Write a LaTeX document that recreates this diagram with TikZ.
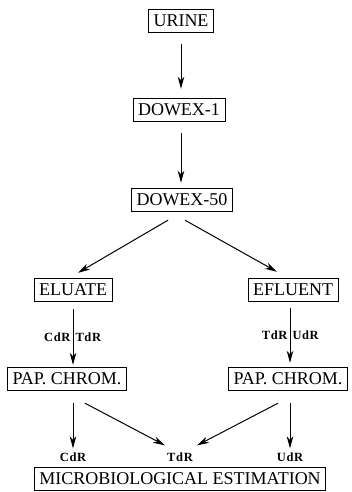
\documentclass[tikz,border=0pt]{standalone}
\usepackage{fontspec}
\setmainfont{Liberation Serif}
\usetikzlibrary{arrows.meta,calc}

\begin{document}
\begin{tikzpicture}[
        x=1pt, y=-1pt,
        stage/.style={shape=rectangle, draw, line width=0.9pt, font=\fontsize{18}{20}\selectfont,
                      inner xsep=5pt, inner ysep=5.5pt, text height=12pt, text depth=0.5pt},
        tag/.style={font=\fontsize{12.5}{13}\selectfont\bfseries\addfontfeature{LetterSpace=5}, inner sep=2pt},
        flow/.style={-{Stealth[length=12pt,width=6.5pt,inset=3.5pt]}, line width=1pt},
        ]
        \useasboundingbox (0,0) rectangle (351,492);
        % stages
        \node(urine)  [stage] at (181,21)  {URINE};
        \node(dowex1) [stage] at (179,110) {DOWEX-1};
        \node(dowex50)[stage] at (182,200) {DOWEX-50};
        \node(eluate) [stage] at (73,290)  {ELUATE};
        \node(efluent)[stage] at (293,290) {EFLUENT};
        \node(papl)   [stage] at (67,379)  {PAP. CHROM.};
        \node(papr)   [stage] at (288,379) {PAP. CHROM.};
        \node(micro)  [stage] at (180,479) {MICROBIOLOGICAL ESTIMATION};
        % fractions
        \node(cdr)[tag] at (73,457)  {CdR};
        \node(tdr)[tag] at (180,457) {TdR};
        \node(udr)[tag] at (290,457) {UdR};

        \draw[flow] ([shift={(0,11)}]urine.south) -- ([shift={(0,-9)}]urine.south |- dowex1.north);
        \draw[flow] ([shift={(0,11)}]urine.south |- dowex1.south) -- ([shift={(0,-5)}]urine.south |- dowex50.north);
        \draw[flow] ([shift={(-14,8)}]dowex50.south) -- ([shift={(5,-5)}]eluate.north);
        \draw[flow] ([shift={(3,8)}]dowex50.south) -- ([shift={(-16,-6)}]efluent.north);
        \draw[flow] ([shift={(0,7)}]eluate.south) -- ([shift={(0,-2)}]eluate.south |- papl.north)
              node[pos=.5, tag, left]{CdR} node[pos=.5, tag, right]{TdR};
        \draw[flow] ([shift={(-3,6)}]efluent.south) -- ([shift={(-3,-4)}]efluent.south |- papr.north)
              node[pos=.5, tag, left]{TdR} node[pos=.5, tag, right]{UdR};
        \draw[flow] ([shift={(0,12)}]cdr.north |- papl.south) -- ([shift={(0,-2)}]cdr.north);
        \draw[flow] ([shift={(18,12)}]papl.south) -- ([shift={(-15,-5)}]tdr.north);
        \draw[flow] ([shift={(-10,12)}]papr.south) -- ([shift={(17,-5)}]tdr.north);
        \draw[flow] ([shift={(0,12)}]udr.north |- papr.south) -- ([shift={(0,-2)}]udr.north);
\end{tikzpicture}
\end{document}
